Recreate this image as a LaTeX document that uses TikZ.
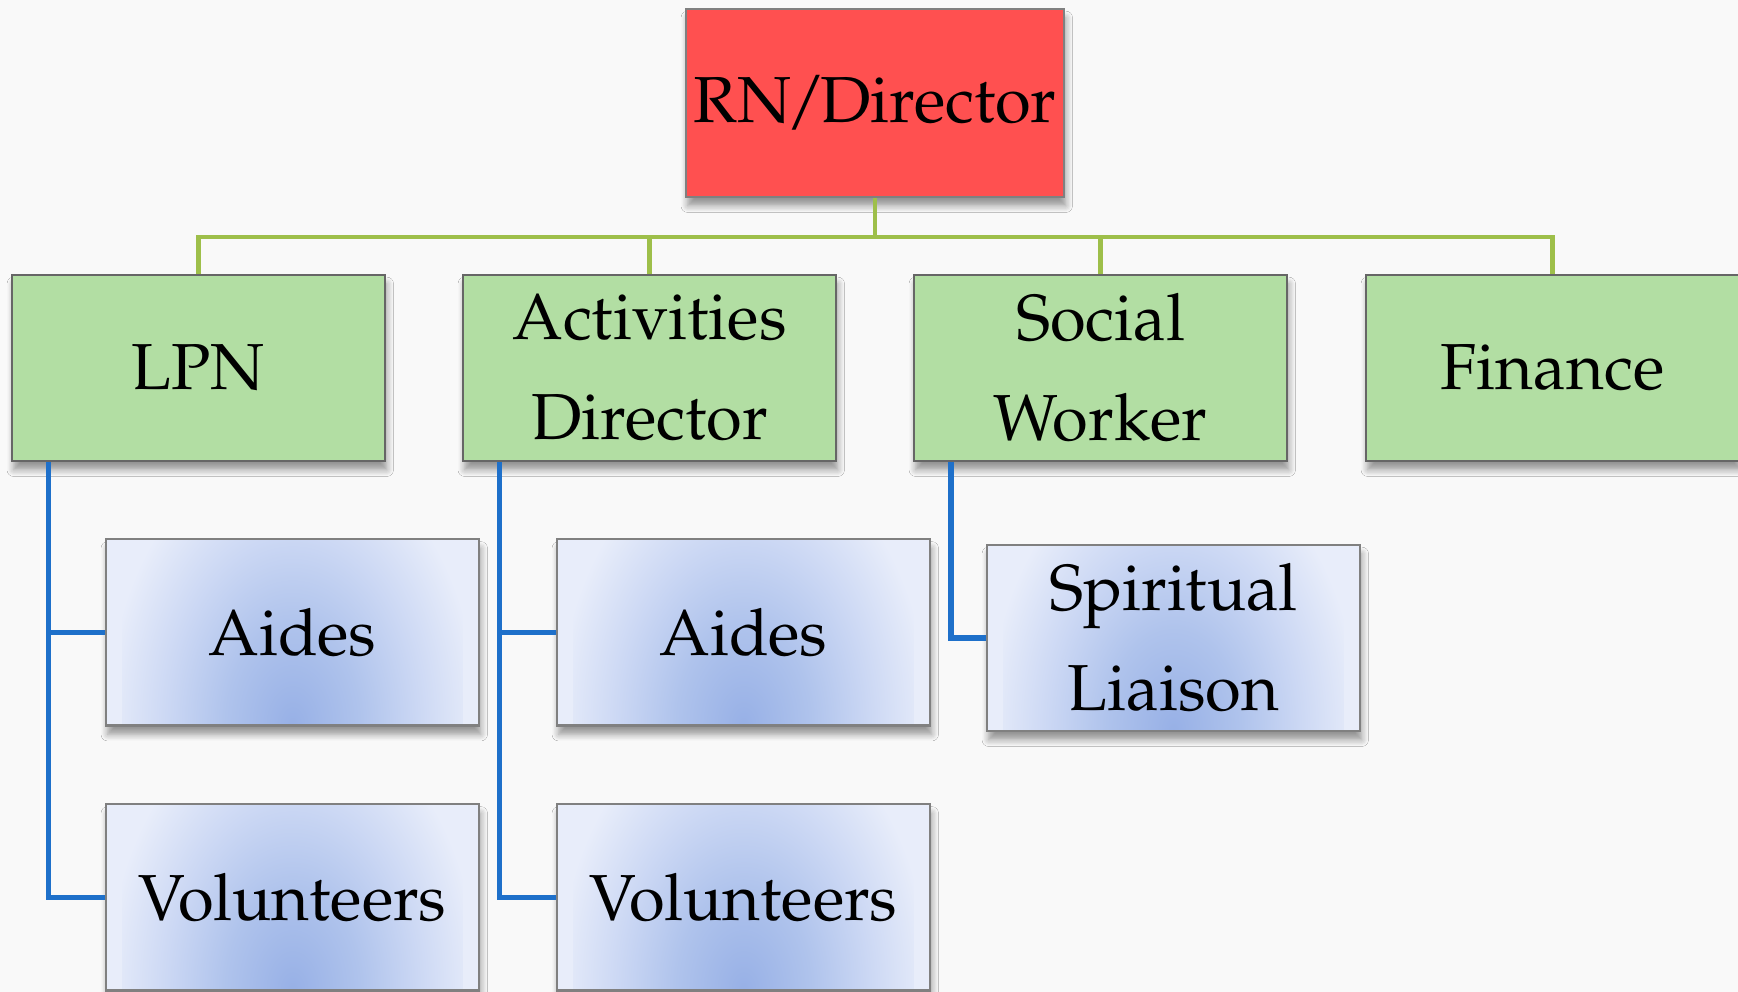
\documentclass[tikz,border=0pt]{standalone}
\usepackage[T1]{fontenc}
\usepackage{mathpazo}
\usetikzlibrary{positioning, shadows.blur}

\definecolor{dirred}{HTML}{FF5050}
\definecolor{staffgreen}{HTML}{B2DEA3}
\definecolor{buslime}{HTML}{9EBF4A}
\definecolor{linkblue}{HTML}{1E70CA}
\definecolor{glowdark}{HTML}{97B0E6}
\definecolor{glowmid}{HTML}{AFC3EC}
\definecolor{glowpale}{HTML}{CCD8F4}
\definecolor{glowlight}{HTML}{E8EDFA}
\definecolor{paper}{HTML}{F9F9F9}
\pgfdeclareradialshading{lowglow}{\pgfpointorigin}{color(0bp)=(glowdark); color(9bp)=(glowmid); color(17bp)=(glowpale); color(25bp)=(glowlight); color(40bp)=(glowlight)}

\tikzset{
  box/.style={draw=gray, line width=0.6pt, minimum width=3.73cm, minimum height=1.86cm, inner sep=0pt, align=center, font=\fontsize{18.5}{28.5}\selectfont, blur shadow={shadow xshift=0.5pt, shadow yshift=-2.5pt, shadow blur steps=6, shadow opacity=40}},
  headbox/.style={box, fill=dirred, minimum width=3.78cm, minimum height=1.88cm},
  staffbox/.style={box, fill=staffgreen, draw=black!60},
  helperbox/.style={box, fill=glowlight, path picture={
      \shade[shading=lowglow] ([xshift=-1.7cm, yshift=-2.8cm]path picture bounding box.south)
          rectangle ([xshift=1.7cm, yshift=2.8cm]path picture bounding box.south);}},
  bus/.style={draw=buslime, line width=1.2pt},
  link/.style={draw=linkblue, line width=1.5pt}
}

\begin{document}
\begin{tikzpicture}[x=0.01cm, y=-0.01cm]
    \fill[paper] (0,0) rectangle (1738,992);
    \useasboundingbox (0,0) rectangle (1738,992);

    \node[headbox] (dir) at (875,103) {RN\kern-0.07em/\kern-0.09em Director};
    \foreach \name/\x/\txt in {lpn/198.5/LPN, act/649.5/Activities\\Director, soc/1100.5/Social\\Worker, fin/1552.5/Finance} {
        \node[staffbox] (\name) at (\x,368) {\txt};
    }

    \node[helperbox] (aides1) at (292.5,632.5) {Aides};
    \node[helperbox] (vol1) at (292.5,897.5) {Volunteers};
    \node[helperbox] (aides2) at (743.5,632.5) {Aides};
    \node[helperbox] (vol2) at (743.5,897.5) {Volunteers};
    \node[helperbox] (spirit) at (1173.5,638) {Spiritual\\Liaison};

    \coordinate (bus) at (877,237);
    \draw[bus] (dir.south) -- (dir.south |- bus);
    \draw[bus] (lpn.north) -- (lpn.north |- bus) -- (fin.north |- bus) -- (fin.north);
    \foreach \name in {act, soc} {
        \draw[bus] (\name.north) -- (\name.north |- bus);
    }

    \coordinate (lpnfoot) at ([xshift=0.38cm]lpn.south west);
    \coordinate (actfoot) at ([xshift=0.38cm]act.south west);
    \coordinate (socfoot) at ([xshift=0.38cm]soc.south west);
    \draw[link] (lpnfoot) |- (vol1.west);
    \draw[link] (aides1.west) -- (aides1.west -| lpnfoot);
    \draw[link] (actfoot) |- (vol2.west);
    \draw[link] (aides2.west) -- (aides2.west -| actfoot);
    \draw[link] (socfoot) |- (spirit.west);
\end{tikzpicture}
\end{document}
